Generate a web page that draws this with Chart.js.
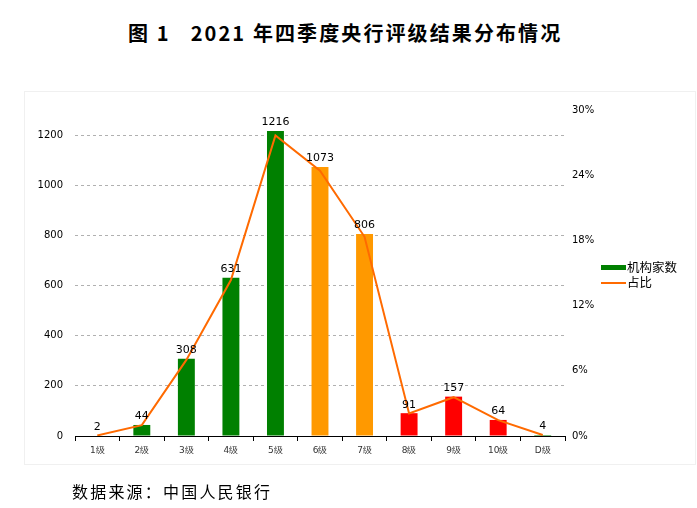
<!DOCTYPE html>
<html><head><meta charset="utf-8">
<script src="https://cdn.jsdelivr.net/npm/chart.js@4"></script>
<style>
html,body{margin:0;padding:0;background:#fff;width:697px;height:508px;overflow:hidden;font-family:"Noto Sans CJK SC","Noto Sans",sans-serif;}
#title{position:absolute;left:128px;top:18px;font-size:20px;font-weight:bold;color:#000;white-space:pre;line-height:30px;letter-spacing:2.1px;}
#frame{position:absolute;left:24px;top:91px;width:670px;height:372px;border:1px solid #f0f0f0;}
#wrap{position:absolute;left:0;top:0;width:697px;height:508px;}
#src{position:absolute;left:72px;top:479px;font-size:16px;letter-spacing:2.2px;color:#000;line-height:24px;}
.lg{position:absolute;left:601px;font-size:12.5px;color:#000;line-height:16px;}
.sw{position:absolute;left:601px;width:25px;}
</style></head>
<body>
<div id="title">图 1<span style="display:inline-block;width:20px"></span>2021 年四季度央行评级结果分布情况</div>
<div id="frame"></div>
<div id="wrap"><canvas id="c" width="697" height="508"></canvas></div>
<div class="sw" style="top:265px;height:5px;background:#008000"></div>
<div class="lg" style="left:627px;top:259px">机构家数</div>
<div class="sw" style="top:282px;height:2px;background:#ff6a00"></div>
<div class="lg" style="left:627px;top:274px">占比</div>
<div id="src">数据来源：中国人民银行</div>
<script>
const categories = ['1级','2级','3级','4级','5级','6级','7级','8级','9级','10级','D级'];
const counts = [2, 44, 308, 631, 1216, 1073, 806, 91, 157, 64, 4];
const shares = [0.05, 1.0, 7.0, 14.35, 27.66, 24.41, 18.33, 2.07, 3.57, 1.46, 0.09];
const barColors = ['#008000','#008000','#008000','#008000','#008000','#ff9900','#ff9900','#ff0000','#ff0000','#ff0000','#008000'];
const leftTicks = [0, 200, 400, 600, 800, 1000, 1200];
const rightTicks = [0, 6, 12, 18, 24, 30];

const valueLabels = {
  id: 'valueLabels',
  afterDatasetsDraw(chart) {
    const meta = chart.getDatasetMeta(1);
    const ctx = chart.ctx;
    ctx.save();
    ctx.font = '11px "DejaVu Sans", sans-serif';
    ctx.fillStyle = '#000';
    ctx.textAlign = 'center';
    ctx.textBaseline = 'bottom';
    meta.data.forEach((el, i) => {
      ctx.fillText(String(counts[i]), el.x, el.y - 3);
    });
    ctx.restore();
  }
};

new Chart(document.getElementById('c'), {
  data: {
    labels: categories,
    datasets: [
      { type: 'line', label: '占比', data: shares, yAxisID: 'y1', borderColor: '#ff6a00', borderWidth: 2, pointRadius: 0, tension: 0, order: 0 },
      { type: 'bar', label: '机构家数', data: counts, yAxisID: 'y', backgroundColor: barColors, barPercentage: 0.38, categoryPercentage: 1.0, order: 1 }
    ]
  },
  options: {
    responsive: false,
    animation: false,
    layout: { padding: { top: 110, left: 0, right: 0, bottom: 0 } },
    plugins: { legend: { display: false }, tooltip: { enabled: false } },
    scales: {
      x: {
        grid: { offset: true, drawOnChartArea: false, drawTicks: true, tickLength: 5, color: '#000' },
        border: { display: true, color: '#000', width: 1 },
        ticks: { font: { size: 9, family: '"DejaVu Sans", sans-serif' }, color: '#333', padding: 4, maxRotation: 0 },
        afterFit(s) { s.height = 72; }
      },
      y: {
        position: 'left', min: 0, max: 1300,
        afterBuildTicks(s) { s.ticks = leftTicks.map(v => ({ value: v })); },
        grid: { drawTicks: false, color: ctx => (ctx.tick && ctx.tick.value === 0) ? 'rgba(0,0,0,0)' : '#b0b0b0' },
        border: { display: false, dash: [3, 3] },
        ticks: { font: { size: 10, family: '"DejaVu Sans", sans-serif' }, color: '#000', padding: 12, callback: v => String(v) },
        afterFit(s) { s.width = 75; }
      },
      y1: {
        position: 'right', min: 0, max: 30,
        afterBuildTicks(s) { s.ticks = rightTicks.map(v => ({ value: v })); },
        grid: { display: false, drawTicks: false },
        border: { display: false },
        ticks: { font: { size: 10, family: '"DejaVu Sans", sans-serif' }, color: '#000', padding: 7, callback: v => v + '%' },
        afterFit(s) { s.width = 132; }
      }
    }
  },
  plugins: [valueLabels]
});
</script>
</body></html>
